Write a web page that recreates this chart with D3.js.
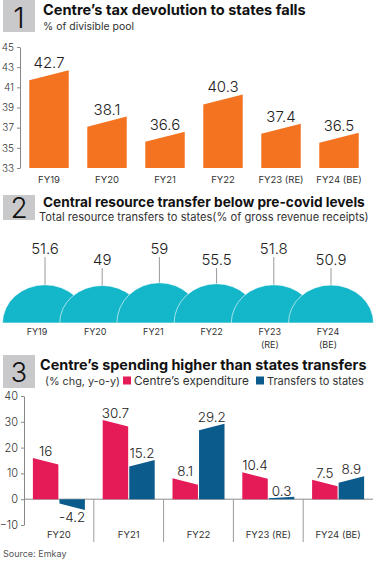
<!DOCTYPE html>
<html>
<head>
<meta charset="utf-8">
<script src="https://cdn.jsdelivr.net/npm/d3@7"></script>
<style>
body { margin: 0; background: #fff; }
svg { display: block; font-family: Inter, Lato, "Open Sans", sans-serif; }
</style>
</head>
<body>
<script>
// chart 1 data
var years1 = ["FY19", "FY20", "FY21", "FY22", "FY23 (RE)", "FY24 (BE)"];
var devolution = [42.7, 38.1, 36.6, 40.3, 37.4, 36.5];
var ticks1 = [33, 35, 37, 39, 41, 43, 45];

// chart 2 data
var years2 = [["FY19"], ["FY20"], ["FY21"], ["FY22"], ["FY23", "(RE)"], ["FY24", "(BE)"]];
var transfers = [51.6, 49, 59, 55.5, 51.8, 50.9];

// chart 3 data
var years3 = ["FY20", "FY21", "FY22", "FY23 (RE)", "FY24 (BE)"];
var centreExp = [16, 30.7, 8.1, 10.4, 7.5];
var stateTransfers = [-4.2, 15.2, 29.2, 0.3, 8.9];
var ticks3 = [-10, 0, 10, 20, 30, 40];

var orange = "#f37321", teal = "#14b6c9", pink = "#e41b57", blue = "#0c5b8d",
    boxGrey = "#c9c9cb", ink = "#222";

var svg = d3.select("body").append("svg")
    .attr("width", 374)
    .attr("height", 561);

// scale the font so the text fills the width it has in the picture
function fit(sel, w) {
  var len = sel.node().getComputedTextLength();
  var fs = parseFloat(sel.attr("font-size"));
  sel.attr("font-size", fs * w / len);
}

function header(num, box, title, sub) {
  svg.append("rect")
    .attr("x", box.x).attr("y", box.y)
    .attr("width", box.w).attr("height", box.h)
    .attr("fill", boxGrey);
  svg.append("text")
    .attr("x", box.x + box.w / 2).attr("y", box.base)
    .attr("text-anchor", "middle")
    .attr("font-size", box.fs).attr("font-weight", 300)
    .attr("fill", "#111")
    .text(num);
  var t = svg.append("text")
    .attr("x", title.x).attr("y", title.y)
    .attr("font-size", 14).attr("font-weight", 700)
    .attr("fill", "#111")
    .text(title.text);
  fit(t, title.w);
  if (sub) {
    var s = svg.append("text")
      .attr("x", sub.x).attr("y", sub.y)
      .attr("font-size", 11)
      .attr("fill", "#333")
      .text(sub.text);
    fit(s, sub.w);
  }
}

// ---------- chart 1 ----------
header("1", {x: 3, y: 0, w: 32, h: 32, base: 28, fs: 29},
  {x: 43, y: 14.5, w: 263, text: "Centre\u2019s tax devolution to states falls"},
  {x: 43, y: 29.5, w: 91, text: "% of divisible pool"});

var x1 = d3.scaleBand().domain(years1).range([20, 368]).paddingInner(0.32).paddingOuter(0.16);
var y1 = d3.scaleLinear().domain([33, 45]).range([168, 47]);

var g1 = svg.append("g");

g1.selectAll("path.bar")
  .data(years1)
  .enter().append("path")
  .attr("class", "bar")
  .attr("fill", orange)
  .attr("d", function(d, i) {
    var a = x1(d), b = a + x1.bandwidth(), v = devolution[i];
    return "M" + a + "," + y1(33) + "L" + a + "," + y1(v - 1) +
           "L" + b + "," + y1(v) + "L" + b + "," + y1(33) + "Z";
  });

g1.selectAll("text.val")
  .data(years1)
  .enter().append("text")
  .attr("class", "val")
  .attr("x", function(d) { return x1(d) + x1.bandwidth() / 2; })
  .attr("y", function(d, i) { return y1(devolution[i]) - 2; })
  .attr("text-anchor", "middle")
  .attr("font-size", 15).attr("font-weight", 300)
  .attr("fill", ink)
  .text(function(d, i) { return devolution[i]; });

g1.selectAll("text.cat")
  .data(years1)
  .enter().append("text")
  .attr("class", "cat")
  .attr("x", function(d) { return x1(d) + x1.bandwidth() / 2; })
  .attr("y", 183)
  .attr("text-anchor", "middle")
  .attr("font-size", 9.5)
  .attr("fill", "#333")
  .text(function(d) { return d; });

var ax1 = g1.append("g")
  .attr("transform", "translate(20,0)")
  .call(d3.axisLeft(y1).tickValues(ticks1).tickSize(3).tickSizeOuter(0).tickPadding(3));
ax1.selectAll("text").attr("font-size", 10).attr("font-weight", 300).attr("fill", "#333").attr("font-family", "Inter, sans-serif");
ax1.selectAll("path, line").attr("stroke", "#888");

// ---------- chart 2 ----------
header("2", {x: 3, y: 195, w: 32, h: 25, base: 218, fs: 28},
  {x: 43, y: 207, w: 322, text: "Central resource transfer below pre-covid levels"},
  {x: 39, y: 220.5, w: 330, text: "Total resource transfers to states(% of gross revenue receipts)"});

var names2 = years2.map(function(d) { return d.join(" "); });
var domeX = d3.scalePoint().domain(names2).range([45, 331]);
var labelX = d3.scalePoint().domain(names2).range([37, 328]);
var domeH = d3.scaleLinear().domain([40, 60]).range([35, 40.5]);
var base2 = 323, rx = 42.5;

var g2 = svg.append("g");

g2.selectAll("line.lead")
  .data(names2)
  .enter().append("line")
  .attr("class", "lead")
  .attr("x1", function(d) { return domeX(d); })
  .attr("x2", function(d) { return domeX(d); })
  .attr("y1", function(d, i) { return (i % 2 ? 265 : 254) + 3; })
  .attr("y2", function(d, i) { return base2 - domeH(transfers[i]); })
  .attr("stroke", "#9a9a9a").attr("stroke-width", 1);

g2.selectAll("path.dome")
  .data(names2)
  .enter().append("path")
  .attr("class", "dome")
  .attr("fill", teal)
  .attr("stroke", "rgba(255,255,255,0.75)")
  .attr("stroke-width", 0.8)
  .attr("d", function(d, i) {
    var c = domeX(d), h = domeH(transfers[i]);
    return "M" + (c - rx) + "," + base2 + "A" + rx + "," + h + " 0 0 1 " + (c + rx) + "," + base2 + "Z";
  });

g2.selectAll("text.val")
  .data(names2)
  .enter().append("text")
  .attr("class", "val")
  .attr("x", function(d) { return domeX(d); })
  .attr("y", function(d, i) { return i % 2 ? 265 : 254; })
  .attr("text-anchor", "middle")
  .attr("font-size", 15).attr("font-weight", 300)
  .attr("fill", ink)
  .text(function(d, i) { return transfers[i]; });

years2.forEach(function(lines, i) {
  var t = g2.append("text")
    .attr("x", labelX(names2[i]))
    .attr("y", 335)
    .attr("text-anchor", "middle")
    .attr("font-size", 9)
    .attr("fill", "#333");
  lines.forEach(function(s, j) {
    t.append("tspan")
      .attr("x", labelX(names2[i]))
      .attr("dy", j ? 13 : 0)
      .text(s);
  });
});

// ---------- chart 3 ----------
header("3", {x: 3, y: 355, w: 32, h: 33, base: 382, fs: 27},
  {x: 40, y: 370, w: 327, text: "Centre\u2019s spending higher than states transfers"}, null);

var sub3 = svg.append("text").attr("x", 45).attr("y", 384.5)
  .attr("font-size", 11).attr("fill", "#333").text("(% chg, y-o-y)");
fit(sub3, 75);

var legend = [
  {name: "Centre\u2019s expenditure", color: pink, x: 123, w: 115},
  {name: "Transfers to states", color: blue, x: 256, w: 97}
];
legend.forEach(function(l) {
  svg.append("rect").attr("x", l.x).attr("y", 376.5).attr("width", 8).attr("height", 8).attr("fill", l.color);
  var t = svg.append("text").attr("x", l.x + 11).attr("y", 384.5)
    .attr("font-size", 11).attr("fill", "#333").text(l.name);
  fit(t, l.w);
});

var x3 = d3.scaleBand().domain(years3).range([24, 373]).paddingInner(0.255).paddingOuter(0.1275);
var xs = d3.scaleBand().domain(["c", "t"]).range([0, x3.bandwidth()]).paddingInner(0.04);
var y3 = d3.scaleLinear().domain([-10, 40]).range([525, 396]);
var zero = y3(0), slant = 6.5, minH = 2.5;

var g3 = svg.append("g");

g3.append("line")
  .attr("x1", 24).attr("x2", 373)
  .attr("y1", zero).attr("y2", zero)
  .attr("stroke", "#8a8a8a");

g3.selectAll("line.sep")
  .data(years3.slice(1))
  .enter().append("line")
  .attr("class", "sep")
  .attr("x1", function(d) { return x3(d) - x3.step() * x3.paddingInner() / 2; })
  .attr("x2", function(d) { return x3(d) - x3.step() * x3.paddingInner() / 2; })
  .attr("y1", zero).attr("y2", 542)
  .attr("stroke", "#9a9a9a");

// value side keeps the full height, the other side is cut by the slant
function slantBar(a, b, v, valueLeft) {
  var h = Math.max(Math.abs(y3(v) - zero), minH);
  var k = Math.max(h - slant, h * 0.4);
  var s = v < 0 ? 1 : -1;
  var hl = valueLeft ? h : k, hr = valueLeft ? k : h;
  return "M" + a + "," + zero + "L" + a + "," + (zero + s * hl) +
         "L" + b + "," + (zero + s * hr) + "L" + b + "," + zero + "Z";
}

var series3 = [
  {key: "c", vals: centreExp, color: pink, left: true},
  {key: "t", vals: stateTransfers, color: blue, left: false}
];

series3.forEach(function(s) {
  g3.selectAll("path.b" + s.key)
    .data(years3)
    .enter().append("path")
    .attr("fill", s.color)
    .attr("d", function(d, i) {
      var a = x3(d) + xs(s.key);
      return slantBar(a, a + xs.bandwidth(), s.vals[i], s.left);
    });

  g3.selectAll("text.v" + s.key)
    .data(years3)
    .enter().append("text")
    .attr("x", function(d) { return x3(d) + xs(s.key) + xs.bandwidth() / 2; })
    .attr("y", function(d, i) { var v = s.vals[i]; return v < 0 ? y3(v) + 12 : y3(v) - 2; })
    .attr("text-anchor", "middle")
    .attr("font-size", 13.5).attr("font-weight", 300)
    .attr("fill", ink)
    .text(function(d, i) { return s.vals[i]; });
});

g3.selectAll("text.cat")
  .data(years3)
  .enter().append("text")
  .attr("x", function(d) { return x3(d) + x3.bandwidth() / 2; })
  .attr("y", 538)
  .attr("text-anchor", "middle")
  .attr("font-size", 9.5)
  .attr("fill", "#333")
  .text(function(d) { return d; });

var ax3 = g3.append("g")
  .attr("transform", "translate(24,0)")
  .call(d3.axisLeft(y3).tickValues(ticks3).tickSize(3).tickSizeOuter(0).tickPadding(3));
ax3.selectAll("text").attr("font-size", 11).attr("font-weight", 300).attr("fill", "#333").attr("font-family", "Inter, sans-serif");
ax3.selectAll("path, line").attr("stroke", "#888");

svg.append("text")
  .attr("x", 3).attr("y", 557)
  .attr("font-size", 9)
  .attr("fill", "#555")
  .text("Source: Emkay");
</script>
</body>
</html>
